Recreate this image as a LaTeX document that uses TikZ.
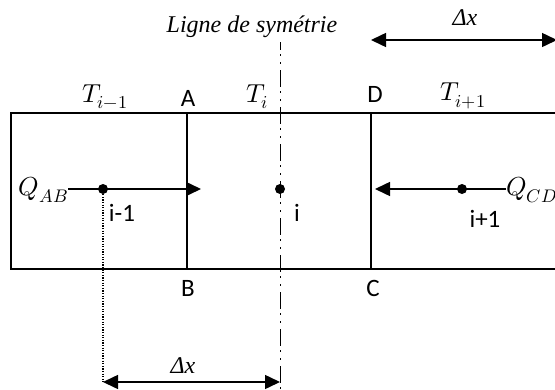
\documentclass[tikz,border=0pt]{standalone}
\usepackage{fontspec}
\usepackage{unicode-math}
\setmainfont{Carlito}
\setmathfont{Latin Modern Math}
\newfontfamily\serifit{Liberation Serif}
\usetikzlibrary{arrows.meta}
\begin{document}
\begin{tikzpicture}[x=1pt,y=-1pt,
  lbl/.style={font=\fontsize{25}{28}\selectfont, inner sep=0pt},
  mlbl/.style={font=\fontsize{26}{29}\selectfont, inner sep=0pt},
  ital/.style={font=\fontsize{24}{27}\selectfont\serifit\itshape, inner sep=0pt},
  box/.style={line width=1.5pt},
  dot/.style={circle, fill=black, minimum size=10pt, inner sep=0pt},
  arr/.style={line width=1.5pt, -{Triangle[length=15pt,width=14pt]}},
  darr/.style={line width=1.5pt, {Triangle[length=15pt,width=14pt]}-{Triangle[length=15pt,width=14pt]}},
  symline/.style={line width=1pt, dash pattern=on 17pt off 4pt on 1.5pt off 6.5pt on 1.5pt off 6.5pt, dash phase=9pt},
  dotline/.style={line width=1.2pt, dash pattern=on 1.2pt off 1.4pt}]
\useasboundingbox (0,0) rectangle (555,389);
% rectangle
\coordinate (tr) at (562,113);
\coordinate (tl) at (11,113);
\coordinate (bl) at (11,269);
\coordinate (br) at (562,269);
\draw[box] (tr) -- (tl) -- (bl) -- (br);
\coordinate (Atop) at (187,113);
\coordinate (Bbot) at (187,269);
\coordinate (Dtop) at (371,113);
\coordinate (Cbot) at (371,269);
\draw[box] (Atop) -- (Bbot);
\draw[box] (Dtop) -- (Cbot);
% symmetry line
\coordinate (symtop) at (280,42);
\coordinate (symbot) at (280,392);
\draw[symline] (symtop) -- (symbot);
% labels
\node[mlbl] (tim1) at (105,97) {$T_{i-1}$};
\node[lbl] (A) at (188,98) {A};
\node[mlbl] (ti) at (257,97) {$T_i$};
\node[lbl] (D) at (375,94) {D};
\node[mlbl] (tip1) at (463,96) {$T_{i+1}$};
\node[lbl] (B) at (188,288) {B};
\node[lbl] (C) at (373,288) {C};
\node[lbl] (lim1) at (122,213) {i-1};
\node[lbl] (li) at (297,213) {i};
\node[lbl] (lip1) at (485,219) {i+1};
\node[ital] (sym) at (252,27) {Ligne de symétrie};
\node[ital] (dx1) at (465,18) {Δx};
\node[ital] (dx2) at (183,366) {Δx};
\node[mlbl, anchor=east] (qab) at (68,190) {$Q_{AB}$};
\node[mlbl, anchor=west] (qcd) at (506,190) {$Q_{CD}$};
% dots
\node[dot] (pim1) at (103,189) {};
\node[dot] (pi) at (280,189) {};
\node[dot] (pip1) at (462,189) {};
% flux arrows
\coordinate (abtip) at (201,189);
\coordinate (cdtip) at (375,189);
\draw[arr] (qab.east |- pim1) -- (abtip);
\draw[arr] (qcd.west |- pip1) -- (cdtip);
% dimension arrows
\coordinate (dxl) at (371,40);
\coordinate (dxr) at (557,40);
\draw[darr] (dxl) -- (dxr);
\coordinate (dbl) at (103,382);
\coordinate (dbr) at (280,382);
\draw[dotline] (pim1) -- (dbl);
\draw[darr] (dbl) -- (dbr);
\end{tikzpicture}
\end{document}
